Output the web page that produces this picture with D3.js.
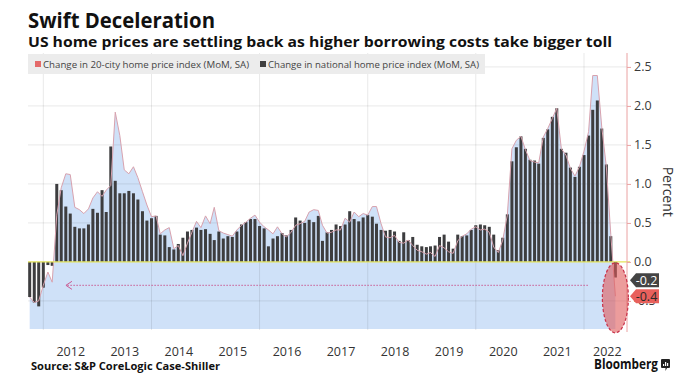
<!DOCTYPE html>
<html>
<head>
<meta charset="utf-8">
<script src="https://cdn.jsdelivr.net/npm/d3@7"></script>
<style>
body { margin: 0; background: #fff; }
svg { display: block; }
text { font-family: "Open Sans", "Liberation Sans", sans-serif; }
</style>
</head>
<body>
<svg id="chart" width="680" height="382"></svg>
<script>
// monthly data, Sep 2011 .. Jul 2022 (plotted at month end)
var firstMonth = "2011-09";

var national = [
	-0.45,-0.52,-0.57,-0.33,-0.04,-0.05,1.00,0.92,0.71,0.62,
	0.45,0.43,0.43,0.48,0.68,0.63,0.92,0.64,1.48,1.04,
	0.88,0.88,0.91,0.88,0.80,0.65,0.53,0.56,0.59,0.35,
	0.34,0.19,0.16,0.23,0.31,0.39,0.41,0.44,0.41,0.42,
	0.36,0.28,0.39,0.30,0.33,0.32,0.39,0.48,0.51,0.55,
	0.55,0.46,0.43,0.20,0.30,0.33,0.37,0.34,0.41,0.57,
	0.53,0.50,0.54,0.51,0.59,0.27,0.38,0.41,0.48,0.46,
	0.48,0.65,0.55,0.52,0.57,0.60,0.58,0.49,0.41,0.40,
	0.41,0.39,0.27,0.38,0.28,0.32,0.22,0.20,0.19,0.20,
	0.21,0.32,0.35,0.26,0.17,0.35,0.33,0.34,0.41,0.47,
	0.48,0.47,0.45,0.35,0.15,0.31,0.61,1.29,1.47,1.61,
	1.45,1.31,1.30,1.26,1.59,1.70,1.86,1.97,1.45,1.40,
	1.21,1.09,1.22,1.37,1.62,1.95,2.07,1.71,1.25,0.33,
	-0.20
];

var city20 = [
	-0.45,-0.52,-0.50,-0.30,-0.13,-0.26,0.60,0.95,1.13,1.12,
	0.70,0.67,0.62,0.68,0.82,0.90,0.84,0.92,0.98,1.92,
	1.62,1.18,1.13,1.22,1.08,0.90,0.73,0.58,0.59,0.36,
	0.41,0.44,0.17,0.21,0.08,0.24,0.38,0.52,0.44,0.59,
	0.49,0.70,0.40,0.37,0.35,0.33,0.41,0.47,0.51,0.56,
	0.60,0.51,0.45,0.41,0.36,0.45,0.36,0.32,0.38,0.47,
	0.49,0.52,0.64,0.67,0.66,0.47,0.37,0.38,0.41,0.41,
	0.56,0.51,0.64,0.58,0.62,0.60,0.71,0.71,0.49,0.32,
	0.31,0.34,0.25,0.24,0.28,0.21,0.15,0.13,0.10,0.12,
	0.07,0.21,0.18,0.13,0.11,0.27,0.33,0.36,0.42,0.45,
	0.41,0.42,0.38,0.19,0.12,0.28,0.60,1.45,1.56,1.61,
	1.44,1.30,1.28,1.27,1.60,1.71,1.84,1.97,1.45,1.37,
	1.20,1.10,1.22,1.42,1.67,2.39,2.39,1.73,1.22,0.35,
	-0.44
];

var yearLabels = [2012, 2013, 2014, 2015, 2016, 2017, 2018, 2019, 2020, 2021, 2022];
var gridYears = [2012, 2014, 2016, 2018, 2020, 2022];
var yTicks = [-0.5, 0, 0.5, 1, 1.5, 2, 2.5];
var legendLabels = ["Change in 20-city home price index (MoM, SA)", "Change in national home price index (MoM, SA)"];
var legendColors = ["#e46a6a", "#3f3f3f"];
var legendWidths = [206, 211];

var blue = "#cfe1f8";
var lineColor = "#d8a2ae";
var barColor = "#3d3d3f";

var svg = d3.select("#chart");

var plotLeft = 28, plotRight = 627, plotTop = 53, plotBottom = 330;

var x = d3.scaleTime()
	.domain([new Date(2012, 0, 1), new Date(2022, 0, 1)])
	.range([43.3, 584]);
var y = d3.scaleLinear()
	.domain([-0.86, 2.64])
	.range([329, 56]);

var start = d3.timeParse("%Y-%m")(firstMonth);
var rows = national.map(function(d, i) {
	return { date: d3.timeMonth.offset(start, i + 1), nat: d, city: city20[i] };
});

// area of 20-city series, filled down to the floor of the plot
var area = d3.area()
	.x(function(d) { return x(d.date); })
	.y0(y.range()[0])
	.y1(function(d) { return y(d.city); });

svg.append("path")
	.datum(rows)
	.attr("d", area)
	.attr("fill", blue);

// grid
svg.selectAll(".hgrid").data(yTicks.filter(function(t) { return t !== 0; }))
	.enter().append("line")
		.attr("class", "hgrid")
		.attr("x1", plotLeft).attr("x2", plotRight)
		.attr("y1", function(d) { return y(d); }).attr("y2", function(d) { return y(d); })
		.attr("stroke", "#000").attr("stroke-opacity", 0.09);

svg.selectAll(".vgrid").data(gridYears)
	.enter().append("line")
		.attr("class", "vgrid")
		.attr("x1", function(d) { return x(new Date(d, 0, 1)); })
		.attr("x2", function(d) { return x(new Date(d, 0, 1)); })
		.attr("y1", plotTop).attr("y2", plotBottom)
		.attr("stroke", "#000").attr("stroke-opacity", 0.09);

// national bars
var barW = 3;
svg.selectAll(".bar").data(rows)
	.enter().append("rect")
		.attr("class", "bar")
		.attr("x", function(d) { return x(d.date) - barW / 2; })
		.attr("y", function(d) { return y(Math.max(0, d.nat)); })
		.attr("width", barW)
		.attr("height", function(d) { return Math.abs(y(d.nat) - y(0)); })
		.attr("fill", barColor);

// 20-city line
var line = d3.line()
	.x(function(d) { return x(d.date); })
	.y(function(d) { return y(d.city); });

svg.append("path")
	.datum(rows)
	.attr("d", line)
	.attr("fill", "none")
	.attr("stroke", lineColor)
	.attr("stroke-width", 1);

// zero line
svg.append("line")
	.attr("x1", plotLeft).attr("x2", plotRight + 3)
	.attr("y1", y(0)).attr("y2", y(0))
	.attr("stroke", "#e4e45a")
	.attr("stroke-width", 1.3);

// right axis
var yAxis = d3.axisRight(y)
	.tickValues(yTicks)
	.tickSize(4)
	.tickSizeOuter(0)
	.tickPadding(3)
	.tickFormat(function(d) { return d.toFixed(1); });

var gy = svg.append("g")
	.attr("transform", "translate(" + plotRight + ",0)")
	.call(yAxis);
gy.select(".domain").remove();
gy.append("line")
	.attr("x1", 0).attr("x2", 0)
	.attr("y1", plotTop).attr("y2", plotBottom + 2)
	.attr("stroke", "#eaa2a2");
gy.selectAll(".tick line").attr("stroke", "#eaa2a2");
gy.selectAll(".tick text")
	.attr("fill", "#3a3a3a")
	.style("font-size", "12.5px")
	.style("font-family", "'Open Sans', sans-serif");

svg.append("text")
	.attr("transform", "translate(663," + y(0.9) + ") rotate(90)")
	.attr("text-anchor", "middle")
	.attr("fill", "#333")
	.style("font-size", "14px")
	.text("Percent");

// bottom axis (labels centred on each year)
var xAxis = d3.axisBottom(x)
	.tickValues(yearLabels.map(function(yr) { return new Date(yr, 6, 1); }))
	.tickSize(0)
	.tickPadding(4)
	.tickFormat(d3.timeFormat("%Y"));

var gx = svg.append("g")
	.attr("transform", "translate(0,343)")
	.call(xAxis);
gx.select(".domain").remove();
gx.selectAll(".tick text")
	.attr("fill", "#333")
	.style("font-size", "12.5px")
	.style("font-family", "'Open Sans', sans-serif");
// last label is nudged left to stay inside the frame
gx.selectAll(".tick text").filter(function(d, i, n) { return i === n.length - 1; })
	.attr("dx", -4);

// legend
svg.append("rect")
	.attr("x", 28).attr("y", 54)
	.attr("width", 457).attr("height", 20)
	.attr("fill", "#ececec");

var legendX = [35, 260];
legendLabels.forEach(function(lbl, i) {
	svg.append("rect")
		.attr("x", legendX[i]).attr("y", 61)
		.attr("width", 6).attr("height", 6)
		.attr("fill", legendColors[i]);
	svg.append("text")
		.attr("x", legendX[i] + 8).attr("y", 67.5)
		.attr("fill", "#444")
		.attr("textLength", legendWidths[i])
		.attr("lengthAdjust", "spacingAndGlyphs")
		.style("font-size", "9.5px")
		.text(lbl);
});

// dotted arrow back to 2012
var arrowLevel = -0.3;
var ay = y(arrowLevel);
var ax0 = x(new Date(2022, 0, 26)), ax1 = x(new Date(2012, 5, 2));
svg.append("line")
	.attr("x1", ax0).attr("x2", ax1 + 1)
	.attr("y1", ay).attr("y2", ay)
	.attr("stroke", "#c95a92")
	.attr("stroke-width", 1.2)
	.attr("stroke-dasharray", "1.2,1.8");
svg.append("path")
	.attr("d", "M" + (ax1 + 6) + "," + (ay - 4) + "L" + ax1 + "," + ay + "L" + (ax1 + 6) + "," + (ay + 4))
	.attr("fill", "none")
	.attr("stroke", "#c95a92")
	.attr("stroke-width", 1);

// highlight ellipse on the latest month
var last = rows[rows.length - 1];
svg.append("ellipse")
	.attr("cx", x(last.date))
	.attr("cy", y(-0.46))
	.attr("rx", 13)
	.attr("ry", 35)
	.attr("fill", "#e05a5a")
	.attr("fill-opacity", 0.6)
	.attr("stroke", "#c8324a")
	.attr("stroke-width", 1.2)
	.attr("stroke-dasharray", "3,2");

// value callouts
function callout(cy, fill, textColor, label) {
	var tip = 630, left = 636, right = 659, h = 7;
	svg.append("path")
		.attr("d", "M" + tip + "," + cy + "L" + left + "," + (cy - h) + "L" + right + "," + (cy - h) +
			"L" + right + "," + (cy + h) + "L" + left + "," + (cy + h) + "Z")
		.attr("fill", fill);
	svg.append("text")
		.attr("x", (left + right) / 2 - 1).attr("y", cy + 4.5)
		.attr("text-anchor", "middle")
		.attr("fill", textColor)
		.style("font-size", "12.5px")
		.text(label);
}
var cityY = y(last.city);
callout(cityY - 16, "#444", "#fff", last.nat.toFixed(1));
callout(cityY, "#e8605c", "#2a2a2a", last.city.toFixed(1));

// titles
svg.append("text")
	.attr("x", 28).attr("y", 28)
	.attr("fill", "#111")
	.attr("textLength", 187)
	.attr("lengthAdjust", "spacingAndGlyphs")
	.style("font-size", "21px")
	.style("font-weight", "bold")
	.text("Swift Deceleration");

svg.append("text")
	.attr("x", 28).attr("y", 47)
	.attr("fill", "#111")
	.attr("textLength", 584)
	.attr("lengthAdjust", "spacingAndGlyphs")
	.style("font-size", "14.5px")
	.style("font-weight", "bold")
	.text("US home prices are settling back as higher borrowing costs take bigger toll");

svg.append("text")
	.attr("x", 31).attr("y", 370)
	.attr("fill", "#111")
	.attr("textLength", 189)
	.attr("lengthAdjust", "spacingAndGlyphs")
	.style("font-size", "10.5px")
	.style("font-weight", "bold")
	.text("Source: S&P CoreLogic Case-Shiller");

svg.append("text")
	.attr("x", 594).attr("y", 369)
	.attr("fill", "#111")
	.attr("textLength", 64)
	.attr("lengthAdjust", "spacingAndGlyphs")
	.style("font-size", "13.5px")
	.style("font-weight", "bold")
	.text("Bloomberg");

// little bloomberg glyph
svg.append("rect")
	.attr("x", 661).attr("y", 359).attr("width", 9).attr("height", 9).attr("rx", 1)
	.attr("fill", "#222");
svg.append("path")
	.attr("d", "M665.5,368 L665.5,371 L667,368 Z")
	.attr("fill", "#222");
[[663, 2], [665, 4], [667, 3]].forEach(function(b) {
	svg.append("rect")
		.attr("x", b[0]).attr("y", 366 - b[1]).attr("width", 1.2).attr("height", b[1])
		.attr("fill", "#fff");
});
</script>
</body>
</html>
